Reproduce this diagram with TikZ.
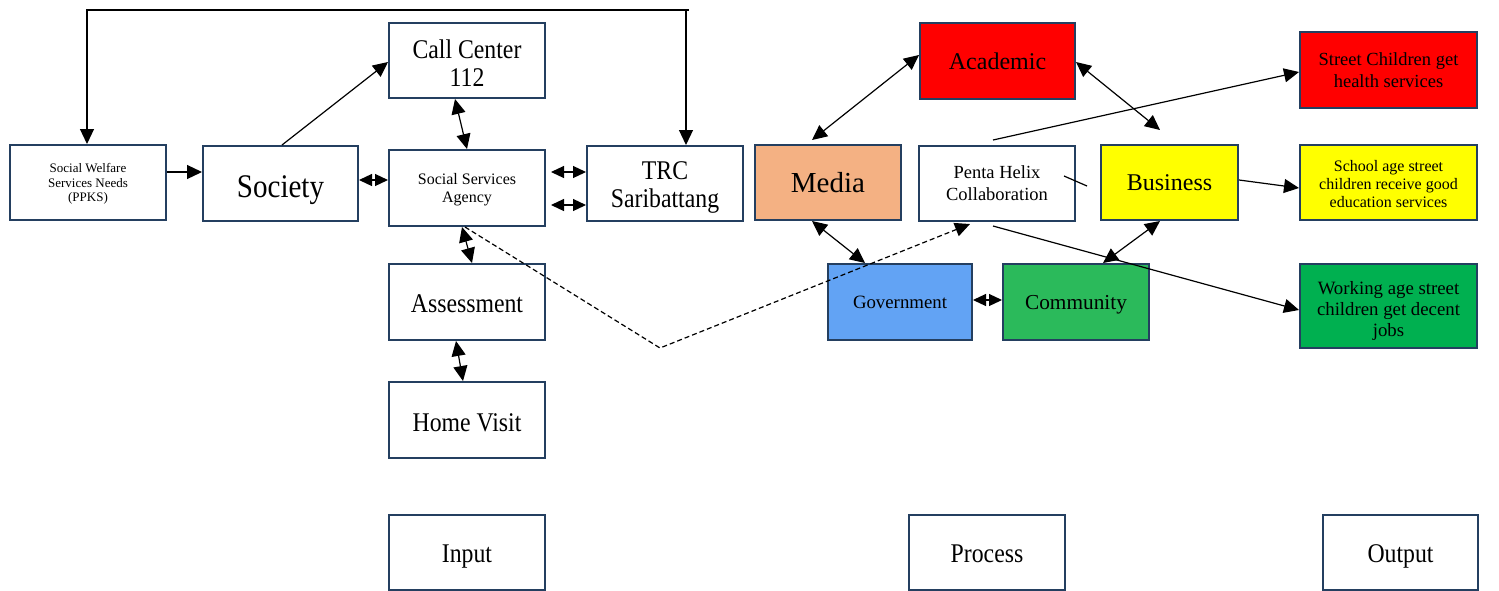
\documentclass[tikz,border=0pt]{standalone}
\usepackage{fontspec}
\setmainfont{Liberation Serif}
\newfontfamily\cond{Liberation Serif}[FakeStretch=0.88]
\usetikzlibrary{arrows.meta}
\definecolor{bordc}{HTML}{243F60}
\definecolor{mediac}{HTML}{F4B183}
\definecolor{govc}{HTML}{62A3F4}
\definecolor{commc}{HTML}{2BBA5B}
\definecolor{workc}{HTML}{00B050}
\definecolor{redc}{HTML}{FF0000}
\definecolor{yelc}{HTML}{FFFF00}
\newcommand{\fs}[2]{\fontsize{#1}{#2}\selectfont}
\newcommand{\dn}[2][3pt]{\raisebox{-#1}[\height][\depth]{#2}}
\tikzset{
  bx/.style={draw=bordc, line width=2pt, inner sep=0pt, align=center, text depth=0pt, minimum width=156pt, minimum height=75pt},
  con/.style={line width=1.2pt, black},
  tip/.tip={Triangle[length=15pt,width=14pt]},
  stip/.tip={Triangle[length=13pt,width=12pt]},
  one/.style={con, -tip},
  two/.style={con, tip-tip},
  twos/.style={con, stip-stip},
}
\begin{document}
\begin{tikzpicture}[x=1pt,y=-1pt]
\useasboundingbox (0,0) rectangle (1499,590);
% left part
\node[bx, font=\fs{13}{14.5}] (ppks) at (88,182.5) {Social Welfare\\Services Needs\\(PPKS)};
\node[bx, minimum width=155pt, font=\cond\fs{33}{36}] (soc) at (280.5,183.5) {\dn{Society}};
\node[bx, font=\cond\fs{27}{27.5}] (cc) at (467,60.5) {\dn[2.5pt]{Call Center}\\\dn[2.5pt]{112}};
\node[bx, minimum height=76pt, font=\fs{16}{18.5}] (ssa) at (467,188) {Social Services\\Agency};
\node[bx, font=\cond\fs{27}{28}] (trc) at (665,183.5) {\dn[1.5pt]{TRC}\\\dn[1.5pt]{Saribattang}};
\node[bx, minimum height=76pt, font=\cond\fs{27}{27}] (asm) at (467,302) {\dn[2pt]{Assessment}};
\node[bx, minimum height=76pt, font=\cond\fs{27}{27}] (hv) at (467,420) {\dn[2.5pt]{Home Visit}};
\node[bx, font=\cond\fs{27}{27}] (inp) at (467,552.5) {\dn[1pt]{Input}};
% middle part
\node[bx, minimum width=146pt, fill=mediac, font=\fs{29}{32}] (media) at (828,182.5) {Media};
\node[bx, minimum width=155pt, minimum height=76pt, fill=redc, font=\fs{24}{27}] (acad) at (997.5,61) {Academic};
\node[bx, font=\fs{18.5}{22}] (penta) at (997,183.5) {Penta Helix\\Collaboration};
\node[bx, minimum width=137pt, fill=yelc, font=\fs{24}{27}] (bus) at (1169.5,182.5) {Business};
\node[bx, minimum width=144pt, minimum height=76pt, fill=govc, font=\fs{18.8}{21}] (gov) at (900,302) {Government};
\node[bx, minimum width=146pt, minimum height=76pt, fill=commc, font=\fs{21.3}{24}] (comm) at (1076,302) {Community};
\node[bx, font=\cond\fs{27}{27}] (proc) at (987,552.5) {\dn[1.5pt]{Process}};
% right part
\node[bx, minimum width=177pt, minimum height=76pt, fill=redc, font=\fs{18.5}{22}] (health) at (1388.5,70) {Street Children get\\health services};
\node[bx, minimum width=177pt, fill=yelc, font=\fs{16}{18}] (school) at (1388.5,182.5) {\dn[1pt]{School age street}\\\dn[1pt]{children receive good}\\\dn[1pt]{education services}};
\node[bx, minimum width=177pt, minimum height=84pt, fill=workc, font=\fs{18.8}{21}] (work) at (1388.5,306) {\dn{Working age street}\\\dn{children get decent}\\\dn{jobs}};
\node[bx, minimum width=155pt, font=\cond\fs{27}{27}] (outp) at (1400.5,552.5) {\dn[1.5pt]{Output}};
% connectors
\coordinate (tl) at (87,10);
\coordinate (tr) at (686,10);
\draw[two] ([xshift=-1pt]ppks.north) -- (tl) -- (tr) -- ([xshift=21pt]trc.north);
\draw[con] (tr) -- (689,10);
\draw[one] ([yshift=10.5pt]ppks.east) -- ([yshift=11.5pt]soc.west);
\draw[one] ([xshift=1.5pt]soc.north) -- ([yshift=-1.5pt]cc.west);
\draw[two] ([xshift=-12pt]cc.south) -- ([xshift=0pt]ssa.north);
\draw[twos] ([yshift=3.5pt]soc.east) -- ([yshift=8pt]ssa.west);
\draw[twos] ([xshift=5pt,yshift=16pt]ssa.east) -- ([yshift=11.5pt]trc.west);
\draw[twos] ([xshift=5pt,yshift=-17pt]ssa.east) -- ([yshift=-21.5pt]trc.west);
\draw[two] ([xshift=-5pt]ssa.south) -- ([xshift=5pt]asm.north);
\draw[two] ([xshift=-11pt]asm.south) -- ([xshift=-4pt]hv.north);
\coordinate (dv) at (660,348);
\draw[con, dash pattern=on 5pt off 3pt, -tip] ([xshift=-2pt]ssa.south) -- (dv) -- ([xshift=-27pt,yshift=-2pt]penta.south);
\draw[two] ([xshift=-16pt,yshift=4pt]media.north) -- ([yshift=6pt]acad.west);
\draw[two] ([yshift=-1pt]acad.east) -- ([xshift=-9.5pt,yshift=14pt]bus.north);
\draw[two] ([xshift=-16pt]media.south) -- ([xshift=-35pt]gov.north);
\draw[two] ([xshift=-9.5pt]bus.south) -- ([xshift=27pt]comm.north);
\draw[twos] ([yshift=2pt]gov.east) -- ([yshift=2pt]comm.west);
\draw[one] ([xshift=-4pt,yshift=5pt]penta.north) -- ([yshift=-2pt]health.west);
\draw[con] ([xshift=-12pt,yshift=7.5pt]penta.east) -- ([xshift=-13pt,yshift=-3.5pt]bus.west);
\draw[one] ([yshift=2.5pt]bus.east) -- ([yshift=-5.5pt]school.west);
\draw[one] ([xshift=-4pt,yshift=-4pt]penta.south) -- ([yshift=-4pt]work.west);
\end{tikzpicture}
\end{document}
